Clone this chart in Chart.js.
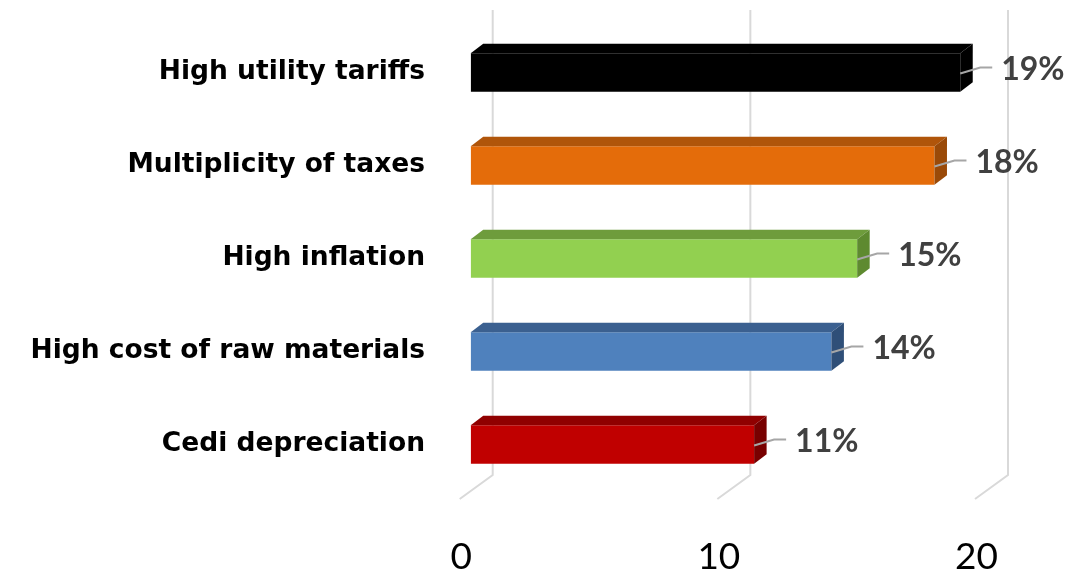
<!DOCTYPE html>
<html>
<head>
<meta charset="utf-8">
<script src="https://cdn.jsdelivr.net/npm/chart.js@4/dist/chart.umd.min.js"></script>
<style>
  body { margin: 0; background: #fff; }
  #wrap { width: 1086px; height: 573px; }
</style>
</head>
<body>
<div id="wrap"><canvas id="chart" width="1086" height="573"></canvas></div>
<script>
// Main constraints, share of respondents (%)
const constraints = ['High utility tariffs', 'Multiplicity of taxes', 'High inflation', 'High cost of raw materials', 'Cedi depreciation'];
const shares = [19, 18, 15, 14, 11];
const axisTicks = [0, 10, 20];

// face colours for each bar: front, top, side
const frontColors = ['#000000', '#E46C0A', '#92D050', '#4F81BD', '#C00000'];
const topColors = ['#000000', '#B0550A', '#6E9C3C', '#3B6090', '#900000'];
const sideColors = ['#000000', '#9A4A08', '#5E8A30', '#2F4F78', '#780000'];

// depth of the bars and of the plot box
const BAR_DX = 12.5, BAR_DY = -9.5;
const BACK_DX = 22, BACK_DY = -16;
const FLOOR_DX = -33, FLOOR_DY = 24;

// gridlines on the back wall plus the floor edge
const wallGrid = {
  id: 'wallGrid',
  beforeDatasetsDraw(chart) {
    const { ctx, chartArea, scales } = chart;
    ctx.save();
    ctx.strokeStyle = '#D9D9D9';
    ctx.lineWidth = 2;
    axisTicks.forEach(v => {
      const xb = scales.x.getPixelForValue(v) + BACK_DX;
      const yb = chartArea.bottom + BACK_DY;
      ctx.beginPath();
      ctx.moveTo(xb, chartArea.top + BACK_DY);
      ctx.lineTo(xb, yb);
      ctx.lineTo(xb + FLOOR_DX, yb + FLOOR_DY);
      ctx.stroke();
    });
    ctx.restore();
  }
};

// top and side faces of each bar, then the value labels
const barDepth = {
  id: 'barDepth',
  afterDatasetsDraw(chart) {
    const { ctx } = chart;
    const meta = chart.getDatasetMeta(0);
    ctx.save();
    meta.data.forEach((bar, i) => {
      const p = bar.getProps(['x', 'y', 'base', 'height'], true);
      const top = p.y - p.height / 2;
      const bottom = p.y + p.height / 2;

      ctx.fillStyle = topColors[i];
      ctx.beginPath();
      ctx.moveTo(p.base, top);
      ctx.lineTo(p.base + BAR_DX, top + BAR_DY);
      ctx.lineTo(p.x + BAR_DX, top + BAR_DY);
      ctx.lineTo(p.x, top);
      ctx.closePath();
      ctx.fill();

      ctx.fillStyle = sideColors[i];
      ctx.beginPath();
      ctx.moveTo(p.x, top);
      ctx.lineTo(p.x + BAR_DX, top + BAR_DY);
      ctx.lineTo(p.x + BAR_DX, bottom + BAR_DY);
      ctx.lineTo(p.x, bottom);
      ctx.closePath();
      ctx.fill();

      // leader line and label
      const ly = p.y - 3;
      ctx.strokeStyle = '#A6A6A6';
      ctx.lineWidth = 2;
      ctx.beginPath();
      ctx.moveTo(p.x, p.y + 1);
      ctx.lineTo(p.x + 20, ly - 2);
      ctx.lineTo(p.x + 32, ly - 2);
      ctx.stroke();

      ctx.fillStyle = '#404040';
      ctx.font = 'bold 32px Lato';
      ctx.textAlign = 'left';
      ctx.textBaseline = 'middle';
      ctx.fillText(shares[i] + '%', p.x + 41, ly);
    });
    ctx.restore();
  }
};

new Chart(document.getElementById('chart'), {
  type: 'bar',
  data: {
    labels: constraints,
    datasets: [{
      data: shares,
      backgroundColor: frontColors,
      borderWidth: 0,
      categoryPercentage: 1,
      barPercentage: 0.414
    }]
  },
  options: {
    indexAxis: 'y',
    responsive: false,
    animation: false,
    layout: { padding: { top: 26, right: 100, left: 0, bottom: 0 } },
    plugins: {
      legend: { display: false },
      tooltip: { enabled: false }
    },
    scales: {
      x: {
        min: 0,
        max: 20,
        afterBuildTicks(scale) {
          scale.ticks = axisTicks.map(v => ({ value: v }));
        },
        grid: { display: false, drawTicks: false },
        border: { display: false },
        ticks: {
          color: '#000',
          font: { family: 'Lato', size: 37 },
          padding: 44,
          labelOffset: -9.5
        },
        afterFit(scale) { scale.height = 82; }
      },
      y: {
        grid: { display: false, drawTicks: false },
        border: { display: false },
        ticks: {
          color: '#000',
          font: { family: 'DejaVu Sans', size: 26.5, weight: 'bold' },
          padding: 45.7
        },
        afterFit(scale) {
          scale.width = 470.7;
          scale.paddingTop = 0;
          scale.paddingBottom = 0;
        }
      }
    }
  },
  plugins: [wallGrid, barDepth]
});
</script>
</body>
</html>
